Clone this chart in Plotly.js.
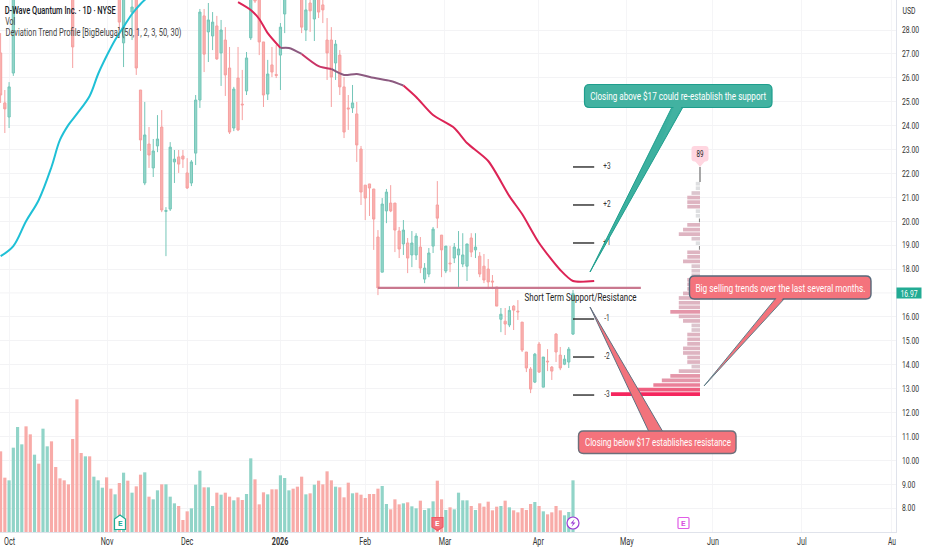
<!DOCTYPE html>
<html>
<head>
<meta charset="utf-8">
<script src="https://cdn.plot.ly/plotly-3.0.1.min.js"></script>
<style>html,body{margin:0;padding:0;background:#fff}#chart{width:932px;height:550px}</style>
</head>
<body>
<div id="chart"></div>
<script>
// ---------- Data: daily candles (Oct 2025 - Apr 2026), index = bar number ----------
const open  = [27.04,24.95,24.36,26.20,30,32.5,34.5,33.5,32,35.5,34,38.5,43,41,39,37,35,32.5,33,31,33,31.5,32,33,34.5,33.4,32.4,33.6,30,27.46,30.5,28.75,30,25.49,21.60,23.23,22.23,23.15,23.94,20.41,20.51,22.48,22.69,22.73,22.02,21.60,22.85,25.07,28.59,27.92,27.75,28.17,27.04,27.58,26.41,23.90,25.99,24.90,25.45,27.67,29.9,30,27.50,25.32,26.54,26.14,26.95,28.67,30.3,31.5,30.8,30,28.00,29.13,28.46,30,29.05,27.58,27.58,26.62,26.95,25.62,24.74,24.74,24.49,23.02,21.51,21.56,21.35,19.34,17.87,20.43,20.76,20.76,19.59,19.05,19.09,18.59,18.59,18.92,17.58,17.79,18.96,20.68,19.42,17.92,18.25,18.46,18.59,18.21,18.12,19.30,18.80,18.54,18.12,18.00,17.50,17.25,15.90,15.82,15.66,16.45,16.24,15.78,14.53,13.82,13.27,14.86,13.06,14.15,13.90,15.28,14.40,14.02,14.11,15.28];
const high  = [27.87,25.49,25.82,29.88,33,34.5,35,34,35.5,36.2,38.5,42,46.4,42,39.8,37.5,35.5,33,33.5,33,33.2,32.5,33.5,34.5,35,33.8,34,34,30.5,30.5,31,29.46,30.5,25.49,24.99,23.94,23.44,24.44,24.65,20.59,23.31,22.98,22.98,22.98,22.64,22.56,25.28,28.88,28.88,29.13,28.75,28.59,28.42,28.12,27.29,25.62,27.29,26.33,27.08,30.0,30.2,30.4,27.50,26.75,27.29,27.37,28.29,30.6,31.5,32,31,30.3,29.46,29.50,30.3,30.3,29.46,28.50,28.12,27.58,27.16,26.03,25.28,25.70,24.99,23.15,21.51,21.56,21.35,19.63,20.97,21.35,21.51,20.76,19.76,20.05,19.30,19.59,19.50,19.34,18.25,18.88,19.76,21.68,19.42,18.96,18.96,19.09,19.59,19.50,19.05,19.50,19.50,18.71,18.63,18.42,17.75,17.25,16.37,16.37,16.45,16.49,16.70,15.78,14.53,13.90,14.49,14.95,14.32,14.65,13.94,15.32,14.74,14.40,14.74,17.12];
const low   = [24.95,23.69,23.90,26.08,29.9,32,32.8,31.5,31.8,33.5,33.8,38,40,38.5,36.5,34.5,32.2,26.41,30.5,30.5,31,31,31.8,32.8,33,32,32,31,28.00,26.45,29.6,27.58,26.12,22.94,21.51,22.23,21.85,22.89,20.38,18.54,20.43,21.60,22.02,22.23,21.35,21.47,22.35,24.74,26.24,26.66,27.16,26.75,25.66,25.24,23.65,23.77,23.77,24.23,25.28,27.58,29.13,26.95,24.78,25.07,26.03,25.99,25.49,27.87,30,30.2,29.8,27.87,27.54,27.92,27.54,28.50,28.29,25.91,24.78,25.91,25.28,23.48,23.82,24.53,22.48,20.68,20.05,20.22,18.80,16.91,17.87,19.92,20.38,18.71,18.46,18.59,17.83,18.08,18.38,17.83,17.41,17.66,18.67,19.71,17.66,17.83,17.87,18.25,17.25,18.08,17.50,18.50,18.46,17.66,17.41,17.16,17.16,16.45,15.36,15.24,15.57,15.45,15.87,14.53,13.69,12.81,13.23,13.65,13.06,13.73,13.36,14.11,13.77,13.98,13.86,15.24];
const close = [25.28,24.70,25.62,29.67,32.5,34,33.2,32,35,34,38,41.5,41,39,37,35,32.5,27.29,31,32.5,31.5,32,33,34,33.4,32.4,33.6,31.5,28.33,30.2,29.8,28.96,26.41,23.40,23.61,22.77,22.94,23.44,20.47,20.45,23.10,22.60,22.39,22.60,21.39,22.48,25.07,28.75,26.99,28.42,28.33,26.79,28.00,26.12,23.73,25.53,23.82,24.87,26.83,29.8,29.21,27.50,25.28,26.16,26.24,26.10,28.12,30.2,31.2,30.6,30,28.12,28.84,28.80,30.0,28.75,28.84,27.04,26.03,27.41,25.62,23.73,24.70,24.95,23.19,21.22,20.97,21.39,20.09,17.21,20.72,21.22,20.43,19.63,18.84,19.63,18.46,19.09,19.38,18.04,18.04,18.67,19.67,20.13,18.80,18.96,18.22,18.92,18.84,18.59,19.05,18.71,18.92,17.79,17.54,17.46,17.46,16.45,16.11,15.70,16.27,16.28,16.21,14.61,13.86,12.98,14.44,13.69,14.32,14.12,13.73,14.53,13.86,14.23,14.65,16.97];
const volume = [24.2,16.3,15.5,25.3,31.5,26.3,31.7,29.3,23.2,20.5,31.0,25.7,27.2,19.5,16.1,15.5,14.3,27.9,39.8,23.7,22.7,22.7,16.6,15.5,13.3,16.4,13.0,11.3,14.7,17.8,15.4,11.8,13.7,17.2,17.9,10.6,9.8,12.5,14.3,14.3,10.6,8.6,7.8,3.6,6.2,7.1,14.2,18.4,13.4,13.4,7.8,11.8,11.2,11.8,10.6,9.5,10.4,9.6,11.4,22.1,15.8,8.3,11.9,11.3,12.8,12.8,17.0,16.2,12.5,13.0,13.6,16.6,11.3,11.6,14.2,15.4,14.3,18.2,15.5,13.6,13.4,10.4,14.8,11.6,11.8,11.2,10.2,11.4,11.4,13.0,13.8,8.4,6.8,9.8,8.3,8.6,8.9,7.7,7.1,9.4,6.6,7.1,9.2,15.4,9.8,6.6,7.4,6.8,11.8,9.5,9.5,7.8,6.6,8.6,7.6,9.1,6.5,7.6,7.8,9.4,7.4,6.5,5.9,7.2,6.6,8.4,9.0,7.8,6.2,5.3,5.9,7.8,6.5,5.0,6.0,15.5];
const volumeDir = "RRGGGGRRGRGGRRRRRRRRGRGGGRRGRGRGRRGRGGRGGGRRRGGGRGGRGRRGRRGGRRRGRRGGGRRRGRGRRRRGRRRGRRRRRRGGRRRGRGGRGGGRRGRGGGGRGRRRRRGRGRRRRRGRGRRRRGGG".split("");
const barCount = open.map((_, k) => k);

const cyanBars = [0,3,6,9,12,14,16,18,21,23,25,27,29,31,33,35];
const cyanLine = [18.54,18.96,20.0,20.89,22.27,23.40,24.03,24.49,25.24,26.16,26.91,27.58,28.13,28.67,29.09,29.42];
const maBars = [56,59,61,63,66,68,71,75,78,81,84,88,92,95,98,102,107,110,115,120,123,127,132,135,140];
const maLine = [29.17,28.84,28.46,27.87,27.25,27.25,27.0,26.49,26.37,26.12,26.16,26.0,25.87,25.68,25.2,24.44,23.9,23.27,22.52,21.05,20.3,19.09,17.96,17.5,17.5];

const supportBars = [89,151];
const supportLevel = [17.21,17.21];
const devLevels = [22.27,20.68,19.09,15.91,14.32,12.73];
const devLabels = ["+3","+2","+1","-1","-2","-3"];
const devBars = [135,140];
const devLabelBar = 143;

const profilePrices = [12.77,12.96,13.15,13.34,13.53,13.73,13.92,14.11,14.30,14.49,14.68,14.87,15.06,15.26,15.45,15.64,15.83,16.02,16.21,16.40,16.59,16.79,16.98,17.17,17.36,17.55,17.74,17.93,18.12,18.32,18.51,18.70,18.89,19.08,19.27,19.46,19.65,19.85,20.04,20.23,20.42,20.61,20.80,20.99,21.18,21.38,21.57,21.76,21.95,22.14];
const profileCounts = [21,15,11,9,7,5,2,3,3,4,4,3,3,3,2,2,4,5,7,5,5,5,4,3,3,3,2,2,2,4,3,3,0.25,1,2,5,4,3,0.25,1,1,3,3,3,2,1,1,0,0,0];
const profileBase = 164.95;

const priceTicks = [8,9,10,11,12,13,14,15,16,18,19,20,21,22,23,24,25,26,27,28];
const hiddenGridPrice = 17;
const monthBars = [2.1,25.1,44,65.9,86,104.8,126.8,147.7,168,189,210.2];
const monthLabels = ["Oct","Nov","Dec","<b>2026</b>","Feb","Mar","Apr","May","Jun","Jul",""];
const lastPrice = "16.97";

// ---------- Layout helpers (pixel position on the plot -> paper fraction) ----------
const W = 896, H = 532;
const X = p => p / W, Y = p => 1 - p / H;
const poly = pts => "M " + pts.map(q => X(q[0]) + "," + Y(q[1])).join(" L ") + " Z";
function rounded(x0, y0, x1, y1, r) {
  const f = (a, b) => X(a) + "," + Y(b);
  return `M ${f(x0 + r, y0)} L ${f(x1 - r, y0)} Q ${f(x1, y0)} ${f(x1, y0 + r)} L ${f(x1, y1 - r)} Q ${f(x1, y1)} ${f(x1 - r, y1)} L ${f(x0 + r, y1)} Q ${f(x0, y1)} ${f(x0, y1 - r)} L ${f(x0, y0 + r)} Q ${f(x0, y0)} ${f(x0 + r, y0)} Z`;
}
const paperPath = (path, fill, line, width) => ({type:"path", xref:"paper", yref:"paper", layer:"above", path, fillcolor:fill, line:{color:line, width:width}});

const SANS = 'Roboto,"Liberation Sans",sans-serif';
const note = (x, y, text, size, color, extra) => Object.assign({xref:"paper", yref:"paper", x:X(x), y:Y(y), text, showarrow:false, font:{family:SANS, size, color}, xanchor:"center", yanchor:"middle"}, extra || {});

function profileColor(c) {
  if (c >= 21) return "#f5265e";
  if (c >= 15) return "#ef5f80";
  if (c >= 11) return "#ea7f98";
  if (c >= 7) return "#e496a9";
  if (c >= 3) return "#deb4c1";
  if (c >= 2) return "#dcc5ce";
  if (c >= 1) return "#dedfe1";
  return "#8a8a8a";
}

const slice = (arr, a, b) => arr.filter((_, k) => maBars[k] >= a && maBars[k] <= b);
const maPart = (a, b, color) => ({type:"scatter", mode:"lines", x:slice(maBars, a, b), y:slice(maLine, a, b), line:{color, width:2, shape:"spline", smoothing:0.7}, hoverinfo:"skip"});

const devX = [], devY = [];
devLevels.forEach(v => { devX.push(devBars[0], devBars[1], null); devY.push(v, v, null); });

const traces = [
  {type:"bar", x:barCount, y:volume, yaxis:"y2", marker:{color:volumeDir.map(d => d === "G" ? "#91d4c8" : "#f8aba8"), line:{width:0}}, hoverinfo:"skip"},
  {type:"bar", orientation:"h", y:profilePrices, x:profileCounts.map(c => -c), base:profileBase, width:0.155, marker:{color:profileCounts.map(profileColor), line:{width:0}}, hoverinfo:"skip"},
  {type:"scatter", mode:"lines", x:[profileBase, profileBase], y:[21.64,22.27], line:{color:"#8a8a8a", width:1.5}, hoverinfo:"skip"},
  {type:"candlestick", x:barCount, open, high, low, close, whiskerwidth:0,
    increasing:{line:{color:"#74c6b8", width:1}, fillcolor:"#93d5c9"},
    decreasing:{line:{color:"#f6a0a0", width:1}, fillcolor:"#f9b2af"}, hoverinfo:"skip"},
  {type:"scatter", mode:"lines", x:cyanBars, y:cyanLine, line:{color:"#1fc0d6", width:2, shape:"spline", smoothing:1}, hoverinfo:"skip"},
  maPart(56, 66, "#dc2456"), maPart(66, 71, "#8c5a80"), maPart(71, 78, "#c93466"), maPart(78, 95, "#8c5a80"), maPart(95, 140, "#dc2456"),
  {type:"scatter", mode:"lines", x:supportBars, y:supportLevel, line:{color:"#c9788f", width:2.2}, hoverinfo:"skip"},
  {type:"scatter", mode:"lines", x:devX, y:devY, line:{color:"#2a2a2a", width:1.4}, hoverinfo:"skip"},
  {type:"scatter", mode:"text", x:devLevels.map(() => devLabelBar), y:devLevels, text:devLabels, textposition:"middle center", textfont:{family:SANS, size:9, color:"#333"}, hoverinfo:"skip"}
];

const layout = {
  width:932, height:550, showlegend:false, hovermode:false, dragmode:false,
  margin:{l:0, r:36, t:0, b:18},
  paper_bgcolor:"#fff", plot_bgcolor:"#fff", barmode:"overlay", bargap:0.25, boxgap:0.25,
  xaxis:{range:[-0.1415,211.18], tickmode:"array", tickvals:monthBars, ticktext:monthLabels, showgrid:true, gridcolor:"#f5f5f7", gridwidth:1, zeroline:false, ticks:"", tickfont:{family:SANS, size:10, color:"#333"}, showline:true, linecolor:"#e0e3eb", linewidth:1, rangeslider:{visible:false}, fixedrange:true},
  yaxis:{range:[7.0,29.255], side:"right", tickmode:"array", tickvals:priceTicks, ticktext:priceTicks.map(v => v.toFixed(2)), showgrid:true, gridcolor:"#f3f3f5", gridwidth:1, zeroline:false, ticks:"", ticklabelstandoff:3, tickfont:{family:SANS, size:9.5, color:"#333"}, showline:true, linecolor:"#e0e3eb", linewidth:1, fixedrange:true},
  yaxis2:{range:[0,159.6], overlaying:"y", side:"left", visible:false, fixedrange:true},
  shapes:[
    {type:"line", xref:"paper", yref:"y", layer:"below", x0:0, x1:1, y0:hiddenGridPrice, y1:hiddenGridPrice, line:{color:"#f3f3f5", width:1}},
    // teal callout
    paperPath(poly([[672,107],[590,272],[683,107]]), "#3cb09f", "#1e9e8d", 1),
    paperPath(rounded(584.5,84.5,772,107.5,5), "#42b2a1", "#1e9e8d", 1.2),
    paperPath(poly([[674,106],[682,106],[660,146]]), "#42b2a1", "#42b2a1", 0),
    // lower red callout
    paperPath(poly([[649,432],[590,307],[663,432]]), "#f2737c", "#5f6f80", 1),
    paperPath(rounded(578.5,431,736,453.5,5), "#f4737c", "#6d6f7a", 1.4),
    // upper red callout
    paperPath(poly([[776,298],[704,386],[785,298]]), "#f2737c", "#5f7f8a", 1),
    paperPath(rounded(689.5,276,871,299,5), "#f4737c", "#56687a", 1.4),
    paperPath(poly([[777,297],[784,297],[765,318]]), "#f4737c", "#f4737c", 0),
    // pink count badge
    paperPath(rounded(691.5,146,708.5,161.5,3), "#ffd6e0", "#ffd6e0", 0),
    paperPath(poly([[694,160],[706,160],[700,167]]), "#ffd6e0", "#ffd6e0", 0),
    // event markers
    paperPath(poly([[114.5,519],[120,515],[125.5,519],[125.5,529.5],[114.5,529.5]]), "#fff", "#22ab94", 1.2),
    paperPath(poly([[432,517.5],[443,517.5],[443,527],[437.5,530.5],[432,527]]), "#f2737c", "#ef5a65", 1.2),
    {type:"circle", xref:"paper", yref:"paper", layer:"above", x0:X(567), x1:X(579), y0:Y(517), y1:Y(529), fillcolor:"#fff", line:{color:"#9c3cd6", width:1.2}},
    paperPath(poly([[574.5,519],[570.5,523.5],[573,523.5],[571.5,527],[575.5,522.5],[573,522.5]]), "#9c3cd6", "#9c3cd6", 0),
    paperPath(rounded(678,517.5,689,528.5,1), "#fff", "#e05ce6", 1.2)
  ],
  annotations:[
    note(60.5, 11, "D-Wave Quantum Inc. · 1D · NYSE", 10.5, "#131722", {font:{family:SANS, size:10.5, color:"#131722", weight:500}}),
    note(10, 22, "Vol", 10, "#444"),
    note(93, 33, "Deviation Trend Profile [BigBeluga] (50, 1, 2, 3, 50, 30)", 10, "#444"),
    note(909.5, 11, "USD", 8.5, "#333"),
    note(678, 96, "Closing above $17 could re-establish the support", 11, "#ffffff"),
    note(780, 288, "Big selling trends over the last several months.", 11, "#ffffff"),
    note(657.5, 442, "Closing below $17 establishes resistance", 11, "#ffffff"),
    note(581, 297, "Short Term Support/Resistance", 10.5, "#222"),
    note(700, 154, "89", 9, "#222"),
    note(120, 523.5, "E", 8, "#22ab94", {font:{family:SANS, size:8, color:"#22ab94", weight:700}}),
    note(437.5, 523, "E", 8, "#fff", {font:{family:SANS, size:8, color:"#fff", weight:700}}),
    note(683.5, 523, "E", 8, "#d94fe0", {font:{family:SANS, size:8, color:"#d94fe0", weight:700}}),
    note(909, 293.3, lastPrice, 9.5, "#fff", {bgcolor:"#22ab94", width:24, height:10, borderpad:0}),
    note(892, 541, "Au", 10, "#333")
  ]
};

// The reference's lettering is much narrower than any installed face: fit each text to its measured span.
const textSpans = {
  "D-Wave Quantum Inc. · 1D · NYSE":111, "Vol":10,
  "Deviation Trend Profile [BigBeluga] (50, 1, 2, 3, 50, 30)":176,
  "USD":13, "Closing above $17 could re-establish the support":176,
  "Big selling trends over the last several months.":170,
  "Closing below $17 establishes resistance":146,
  "Short Term Support/Resistance":112, "16.97":17, "Au":8, "89":7
};
function squeeze(el, len) { el.setAttribute("textLength", len); el.setAttribute("lengthAdjust", "spacingAndGlyphs"); }

Plotly.newPlot("chart", traces, layout, {displayModeBar:false, staticPlot:true}).then(() => {
  document.querySelectorAll(".annotation-text").forEach(t => {
    const len = textSpans[t.textContent];
    if (len) squeeze(t, len);
  });
  document.querySelectorAll(".xtick text, .ytick text, .textpoint text").forEach(t => {
    if (t.textContent) squeeze(t, t.getComputedTextLength() * 0.72);
  });
});
</script>
</body>
</html>
